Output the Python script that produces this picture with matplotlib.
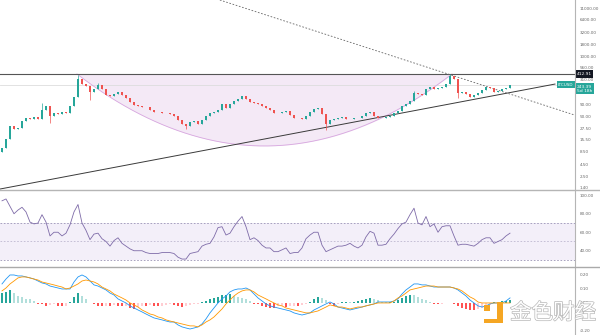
import numpy as np
import matplotlib
matplotlib.use('Agg')
import matplotlib.pyplot as plt
from matplotlib.patches import Rectangle
import matplotlib.patheffects as pe

# ----------------------------
# price data (one candle per bar)
# ----------------------------
close = [
    10.2, 16.0, 30.6, 26.3, 27.7, 39.3, 45.6, 43.4, 47.9, 43.4,
    68.0, 83.0, 50.4, 58.5, 57.2, 61.5, 60.1, 83.0, 130.0, 318.7,
    248.4, 224.9, 166.7, 193.6, 236.4, 193.6, 143.6, 136.6, 150.9, 166.7,
    143.6, 123.6, 101.3, 87.2, 83.0, 79.0, 80.5, 68.0, 61.5, 62.8,
    58.5, 59.6, 55.7, 50.4, 41.3, 33.8, 30.6, 37.4, 39.3, 33.8,
    41.3, 50.4, 58.5, 61.5, 68.0, 91.7, 75.1, 91.7, 106.5, 117.6,
    136.6, 117.6, 101.3, 99.5, 91.7, 83.0, 75.1, 68.0, 58.5, 60.2,
    61.5, 64.7, 53.0, 45.6, 46.8, 43.4, 50.4, 61.5, 71.5, 75.1,
    55.7, 33.8, 41.3, 43.4, 45.6, 47.9, 43.4, 44.6, 45.6, 44.9,
    50.4, 58.5, 61.5, 50.4, 45.6, 46.5, 47.9, 50.4, 58.5, 64.7,
    83.0, 91.7, 106.5, 158.6, 150.9, 143.6, 193.6, 213.9, 193.6, 203.5,
    213.9, 248.4, 370.1, 318.7, 158.6, 166.7, 150.9, 130.0, 143.6, 158.6,
    184.2, 213.9, 203.5, 166.7, 175.3, 193.6, 203.5, 243.39,
]
first_open = 8.5
wick_high = {10: 96.4, 19: 395.0, 24: 261.0, 103: 175.0, 112: 412.91}
wick_low = {12: 35.5, 22: 112.0, 46: 26.3, 81: 25.0, 114: 124.0}

rsi = [
    94, 96, 88, 80, 84, 87, 82, 71, 69, 70,
    79, 71, 56, 60, 60, 56, 59, 68, 82, 90,
    70, 62, 52, 58, 59, 53, 50, 45, 51, 54,
    48, 45, 42, 40, 40, 40, 38, 37, 37, 37,
    38, 38, 38, 37, 33, 31, 31, 37, 38, 39,
    45, 47, 48, 55, 65, 66, 57, 59, 66, 72,
    77, 66, 52, 54, 51, 46, 43, 43, 39, 39,
    41, 43, 37, 38, 38, 43, 53, 57, 60, 60,
    46, 39, 41, 43, 45, 45, 46, 48, 45, 43,
    46, 55, 61, 59, 46, 46, 47, 53, 58, 64,
    69, 71, 79, 86, 70, 68, 77, 66, 69, 60,
    66, 67, 67, 56, 46, 47, 47, 46, 45, 48,
    52, 54, 54, 48, 50, 52, 56, 59,
]

macd = [
    0.136, 0.171, 0.200, 0.200, 0.193, 0.193, 0.186, 0.179, 0.171, 0.157,
    0.143, 0.136, 0.121, 0.114, 0.107, 0.100, 0.100, 0.100, 0.150, 0.186,
    0.200, 0.186, 0.157, 0.129, 0.121, 0.107, 0.093, 0.071, 0.057, 0.029,
    0.014, 0.000, -0.021, -0.036, -0.050, -0.064, -0.079, -0.093, -0.107, -0.114,
    -0.121, -0.129, -0.136, -0.136, -0.157, -0.171, -0.179, -0.186, -0.179, -0.171,
    -0.150, -0.114, -0.071, -0.036, 0.000, 0.029, 0.050, 0.079, 0.093, 0.100,
    0.100, 0.107, 0.093, 0.064, 0.036, 0.014, -0.007, -0.021, -0.029, -0.036,
    -0.043, -0.050, -0.057, -0.071, -0.079, -0.086, -0.079, -0.071, -0.050, -0.036,
    -0.021, -0.007, 0.007, -0.007, -0.029, -0.036, -0.043, -0.050, -0.043, -0.036,
    -0.029, -0.021, -0.014, -0.007, 0.007, 0.007, 0.007, 0.007, 0.014, 0.029,
    0.064, 0.093, 0.114, 0.136, 0.136, 0.129, 0.129, 0.121, 0.114, 0.114,
    0.114, 0.114, 0.114, 0.107, 0.093, 0.071, 0.050, 0.021, 0.000, -0.021,
    -0.029, -0.021, -0.007, 0.000, 0.000, 0.000, 0.014, 0.036,
]
signal = [
    0.086, 0.107, 0.136, 0.157, 0.179, 0.186, 0.186, 0.179, 0.171, 0.164,
    0.150, 0.143, 0.136, 0.129, 0.121, 0.114, 0.100, 0.107, 0.121, 0.136,
    0.157, 0.164, 0.157, 0.150, 0.136, 0.114, 0.100, 0.086, 0.064, 0.050,
    0.036, 0.021, 0.000, -0.014, -0.029, -0.050, -0.064, -0.079, -0.086, -0.100,
    -0.107, -0.121, -0.129, -0.136, -0.143, -0.150, -0.157, -0.164, -0.164, -0.171,
    -0.157, -0.136, -0.121, -0.100, -0.071, -0.043, -0.007, 0.021, 0.050, 0.071,
    0.086, 0.093, 0.093, 0.079, 0.057, 0.043, 0.029, 0.014, 0.000, -0.014,
    -0.021, -0.036, -0.043, -0.050, -0.057, -0.064, -0.071, -0.071, -0.064, -0.057,
    -0.043, -0.029, -0.014, -0.021, -0.029, -0.029, -0.036, -0.043, -0.036, -0.029,
    -0.029, -0.021, -0.014, -0.007, 0.000, 0.000, 0.000, 0.000, 0.014, 0.036,
    0.050, 0.071, 0.093, 0.100, 0.107, 0.114, 0.121, 0.121, 0.121, 0.114,
    0.114, 0.114, 0.114, 0.107, 0.100, 0.086, 0.064, 0.043, 0.029, 0.007,
    0.000, 0.000, 0.000, 0.000, 0.000, 0.000, 0.000, 0.000,
]
hist = [
    0.07, 0.08, 0.09, 0.07, 0.05, 0.04, 0.03, 0.025, 0.015, -0.005,
    -0.01, -0.02, -0.015, -0.01, -0.02, -0.025, -0.02, 0.01, 0.04, 0.07,
    0.05, 0.03, 0.0, -0.01, -0.02, -0.025, -0.02, -0.02, -0.015, -0.02,
    -0.025, -0.02, -0.035, -0.04, -0.03, -0.02, -0.02, -0.015, -0.02, -0.025,
    -0.02, -0.015, -0.01, -0.015, -0.02, -0.03, -0.025, -0.015, -0.01, -0.005,
    0.005, 0.015, 0.025, 0.035, 0.045, 0.055, 0.06, 0.065, 0.05, 0.045,
    0.035, 0.025, 0.015, -0.005, -0.01, -0.02, -0.03, -0.035, -0.035, -0.025,
    -0.02, -0.03, -0.025, -0.02, -0.02, -0.015, -0.01, 0.01, 0.025, 0.04,
    0.035, 0.02, -0.01, -0.02, -0.01, 0.005, 0.01, 0.005, 0.01, 0.015,
    0.02, 0.03, 0.035, 0.03, 0.02, 0.01, 0.005, 0.005, 0.01, 0.02,
    0.035, 0.05, 0.06, 0.055, 0.04, 0.03, 0.02, 0.01, -0.005, -0.01,
    -0.005, 0.0, 0.0, -0.01, -0.02, -0.035, -0.045, -0.05, -0.05, -0.045,
    -0.035, -0.025, -0.015, 0.005, 0.01, 0.012, 0.015, 0.02,
]

price_ticks = [11000, 6400, 3200, 1800, 1000, 560, 310, 90, 50, 27.5, 15.5, 8.5, 4.5, 2.5, 1.4]
rsi_ticks = [100, 80, 60, 40]
macd_ticks = [0.2, 0.1, 0.0, -0.2]

symbol = 'LTCUSD'
resistance = 412.91
last_price = 243.39
countdown = '5d 18h'

# drawing tools: (bar index, price) anchors
support_pts = [(-0.5, 1.33), (138.25, 250.0)]
falling_pts = [(54.5, 16500.0), (143.25, 53.0)]
arc_start, arc_end, arc_low = 18.75, 112.5, 11.4

UP, DOWN = '#26a69a', '#ef5350'
W, H = 600, 335
X_MAX = 143.25

idx = np.arange(len(close))
c = np.array(close)
o = np.concatenate([[first_open], c[:-1]])
hi = np.maximum(o, c)
lo = np.minimum(o, c)
for k, v in wick_high.items():
    hi[k] = v
for k, v in wick_low.items():
    lo[k] = v


def log_line(pts, xs):
    (x0, p0), (x1, p1) = pts
    slope = (np.log10(p1) - np.log10(p0)) / (x1 - x0)
    return 10 ** (np.log10(p0) + slope * (xs - x0))


fig = plt.figure(figsize=(W / 100, H / 100), dpi=100)


def px_axes(x0, y0, x1, y1):
    return fig.add_axes([x0 / W, 1 - y1 / H, (x1 - x0) / W, (y1 - y0) / H])


ax_p = px_axes(0, 0, 575, 190)
ax_r = px_axes(0, 190, 575, 267)
ax_m = px_axes(0, 267, 575, 335)

for ax in (ax_p, ax_r, ax_m):
    ax.set_xlim(-0.5, X_MAX)
    ax.set_xticks([])
    for s in ax.spines.values():
        s.set_visible(False)
    ax.yaxis.tick_right()
    ax.tick_params(axis='y', length=0, labelsize=3.0, labelcolor='#666666', pad=3.5)

# ---- price panel ----
ax_p.set_yscale('log')
ax_p.set_ylim(1.267, 16560)
ax_p.set_yticks(price_ticks)
ax_p.set_yticklabels([f'{t:.2f}' for t in price_ticks])
ax_p.minorticks_off()

# rounded bottom arc under the resistance line
xa = np.linspace(arc_start, arc_end, 300)
t = (xa - (arc_start + arc_end) / 2) / ((arc_end - arc_start) / 2)
depth = np.log10(resistance) - np.log10(arc_low)
arc = 10 ** (np.log10(resistance) - depth * (1 - t ** 2))
ax_p.fill_between(xa, arc, resistance, color='#f4e9f6', lw=0, zorder=1)
ax_p.plot(xa, arc, color='#d7a6df', lw=0.6, zorder=2)

ax_p.axhline(resistance, color='#555555', lw=0.8, zorder=2)
ax_p.axhline(last_price, color='#dddddd', lw=0.6, zorder=1)

xs = np.linspace(support_pts[0][0], support_pts[1][0], 50)
ax_p.plot(xs, log_line(support_pts, xs), color='#3a3a3a', lw=0.7, zorder=3)
xf = np.linspace(-0.5, X_MAX, 50)
ax_p.plot(xf, log_line(falling_pts, xf), color='#666666', lw=0.6,
          dashes=(2, 2), zorder=3)

colors = [UP if cc >= oo else DOWN for oo, cc in zip(o, c)]
ax_p.vlines(idx, lo, hi, colors=colors, lw=0.5, zorder=4)
body_lo = np.minimum(o, c)
body_h = np.maximum(np.abs(c - o), body_lo * 0.012)
ax_p.bar(idx, body_h, bottom=body_lo, width=0.6, color=colors, lw=0, zorder=5)

ytr = ax_p.get_yaxis_transform()
ax_p.text(1.003, resistance, f'{resistance:.2f}', transform=ytr, ha='left', va='center',
          fontsize=3.2, color='white', clip_on=False, zorder=20,
          bbox=dict(boxstyle='square,pad=0.35', fc='#131722', ec='none'))
ax_p.text(1.003, last_price, f'{last_price:.2f}\n{countdown}', transform=ytr, ha='left',
          va='top', fontsize=3.2, color='white', clip_on=False, zorder=20,
          linespacing=1.1,
          bbox=dict(boxstyle='square,pad=0.35', fc=UP, ec='none'))
ax_p.text(0.997, last_price, symbol, transform=ytr, ha='right', va='center',
          fontsize=3.0, color='white', clip_on=False, zorder=20,
          bbox=dict(boxstyle='square,pad=0.3', fc=UP, ec='none'))

# ---- RSI panel ----
ax_r.set_ylim(22.4, 105.7)
ax_r.set_yticks(rsi_ticks)
ax_r.set_yticklabels([f'{t:.2f}' for t in rsi_ticks])
ax_r.axhspan(30, 70, color='#7e57c2', alpha=0.09, lw=0)
ax_r.axhline(70, color='#9a93b5', lw=0.6, dashes=(2, 2))
ax_r.axhline(50, color='#9a93b5', lw=0.6, dashes=(2, 2), alpha=0.6)
ax_r.axhline(30, color='#9a93b5', lw=0.6, dashes=(2, 2))
ax_r.plot(idx, rsi, color='#7e6ba8', lw=0.6)

# ---- MACD panel ----
ax_m.set_ylim(-0.229, 0.257)
ax_m.set_yticks(macd_ticks)
ax_m.set_yticklabels([f'{t:.2f}' for t in macd_ticks])
hcol = []
prev = 0.0
for h in hist:
    if h >= 0:
        hcol.append('#26a69a' if h >= prev else '#b2dfdb')
    else:
        hcol.append('#ff5252' if h <= prev else '#ffcdd2')
    prev = h
ax_m.bar(idx, hist, width=0.6, color=hcol, lw=0)
ax_m.plot(idx, macd, color='#2196f3', lw=0.6)
ax_m.plot(idx, signal, color='#ff9800', lw=0.6)

# ---- frame lines and watermark in pixel space ----
ov = fig.add_axes([0, 0, 1, 1], zorder=10)
ov.set_xlim(0, W)
ov.set_ylim(H, 0)
ov.axis('off')
ov.patch.set_alpha(0)
ov.plot([575, 575], [0, H], color='#b5b5b5', lw=0.8)
ov.plot([0, W], [190, 190], color='#b5b5b5', lw=1.0)
ov.plot([0, W], [267, 267], color='#aaaaaa', lw=1.0)

gold = '#f5a623'
ov.add_patch(Rectangle((484, 305), 6, 6, color=gold, lw=0))
ov.add_patch(Rectangle((497, 302), 6, 21, color=gold, lw=0))
ov.add_patch(Rectangle((484, 318.5), 19, 4.5, color=gold, lw=0))
ov.text(510, 313, '金色财经', fontsize=15.5, family=['Noto Sans CJK SC', 'DejaVu Sans'],
        ha='left', va='center', color='white',
        path_effects=[pe.withStroke(linewidth=1.0, foreground='#b8b8b8')])

fig.savefig('out.png', dpi=100)
